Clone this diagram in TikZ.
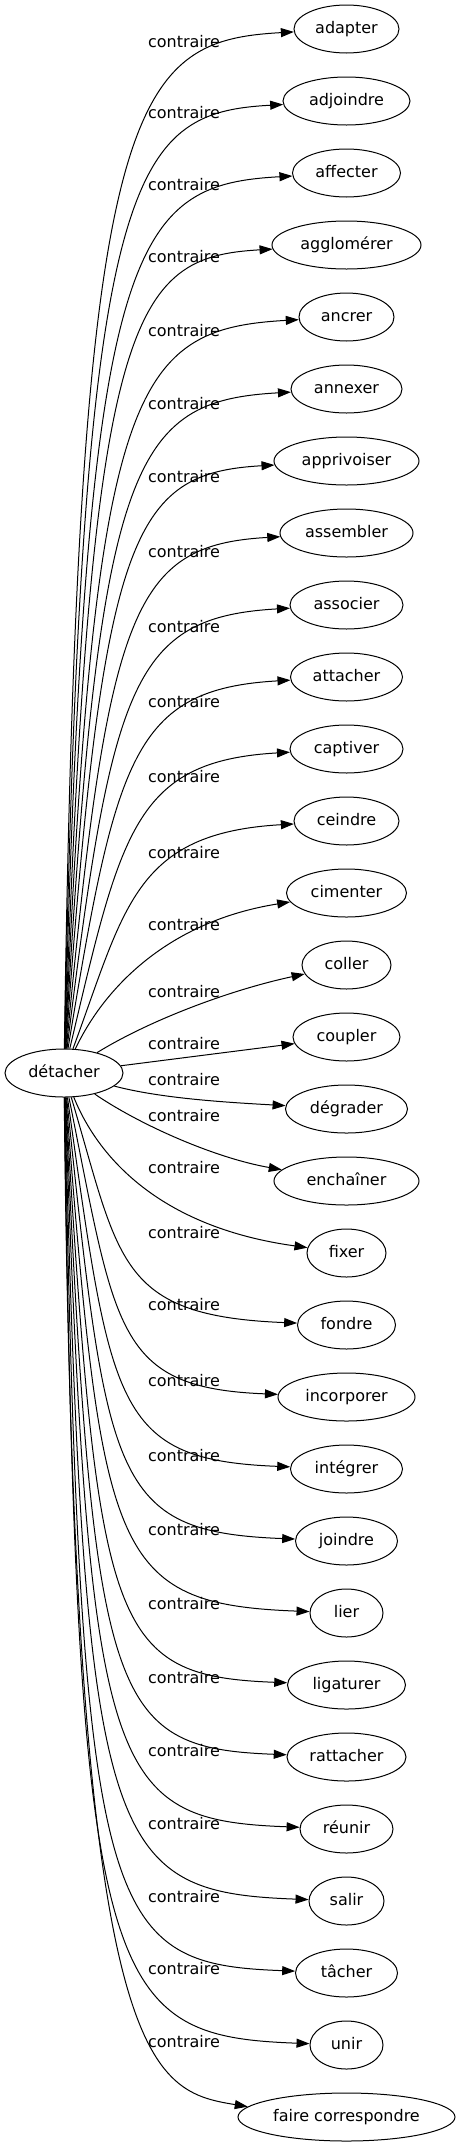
\documentclass[tikz,border=0pt]{standalone}
\usepackage{fontspec}
\setmainfont{DejaVu Sans}
\usetikzlibrary{arrows.meta,shapes.geometric}

\begin{document}
\begin{tikzpicture}[x=1pt,y=-1pt,node distance=72pt,
    main node/.style={draw, ellipse, line width=1pt, inner sep=0pt,
      minimum height=48pt, text height=12pt, text depth=4pt,
      font=\fontsize{16pt}{19pt}\selectfont},
    rel node/.style={inner sep=0pt, font=\fontsize{16pt}{19pt}\selectfont},
    link/.style={line width=1pt, -{Triangle[length=13pt,width=9pt]}}]
    \useasboundingbox (0,0) rectangle (461,2147);

    \node[main node, minimum width=118pt] (0) at (64,1073) {détacher};
    \node[main node, minimum width=105pt] (1) at (346.5,29) {adapter};
    \node[main node, minimum width=127pt] (2) [below of=1] {adjoindre};
    \node[main node, minimum width=108pt] (3) [below of=2] {affecter};
    \node[main node, minimum width=149pt] (4) [below of=3] {agglomérer};
    \node[main node, minimum width=95pt] (5) [below of=4] {ancrer};
    \node[main node, minimum width=111pt] (6) [below of=5] {annexer};
    \node[main node, minimum width=145pt] (7) [below of=6] {apprivoiser};
    \node[main node, minimum width=133pt] (8) [below of=7] {assembler};
    \node[main node, minimum width=113pt] (9) [below of=8] {associer};
    \node[main node, minimum width=112pt] (10) [below of=9] {attacher};
    \node[main node, minimum width=113pt] (11) [below of=10] {captiver};
    \node[main node, minimum width=105pt] (12) [below of=11] {ceindre};
    \node[main node, minimum width=120pt] (13) [below of=12] {cimenter};
    \node[main node, minimum width=89pt] (14) [below of=13] {coller};
    \node[main node, minimum width=107pt] (15) [below of=14] {coupler};
    \node[main node, minimum width=122pt] (16) [below of=15] {dégrader};
    \node[main node, minimum width=145pt] (17) [below of=16] {enchaîner};
    \node[main node, minimum width=79pt] (18) [below of=17] {fixer};
    \node[main node, minimum width=98pt] (19) [below of=18] {fondre};
    \node[main node, minimum width=137pt] (20) [below of=19] {incorporer};
    \node[main node, minimum width=112pt] (21) [below of=20] {intégrer};
    \node[main node, minimum width=102pt] (22) [below of=21] {joindre};
    \node[main node, minimum width=73pt] (23) [below of=22] {lier};
    \node[main node, minimum width=118pt] (24) [below of=23] {ligaturer};
    \node[main node, minimum width=119pt] (25) [below of=24] {rattacher};
    \node[main node, minimum width=93pt] (26) [below of=25] {réunir};
    \node[main node, minimum width=75pt] (27) [below of=26] {salir};
    \node[main node, minimum width=102pt] (28) [below of=27] {tâcher};
    \node[main node, minimum width=73pt] (29) [below of=28] {unir};
    \node[main node, minimum width=217pt] (30) [below of=29] {faire correspondre};

    \node[rel node] (c1) at (184,42) {contraire};
    \node[rel node] (c2) at (184,113) {contraire};
    \node[rel node] (c3) at (184,185) {contraire};
    \node[rel node] (c4) at (184,257) {contraire};
    \node[rel node] (c5) at (184,331) {contraire};
    \node[rel node] (c6) at (184,404) {contraire};
    \node[rel node] (c7) at (184,477) {contraire};
    \node[rel node] (c8) at (184,552) {contraire};
    \node[rel node] (c9) at (184,627) {contraire};
    \node[rel node] (c10) at (184,702) {contraire};
    \node[rel node] (c11) at (184,777) {contraire};
    \node[rel node] (c12) at (184,853) {contraire};
    \node[rel node] (c13) at (184,925) {contraire};
    \node[rel node] (c14) at (184,992) {contraire};
    \node[rel node] (c15) at (184,1044) {contraire};
    \node[rel node] (c16) at (184,1080) {contraire};
    \node[rel node] (c17) at (184,1116) {contraire};
    \node[rel node] (c18) at (184,1168) {contraire};
    \node[rel node] (c19) at (184,1233) {contraire};
    \node[rel node] (c20) at (184,1305) {contraire};
    \node[rel node] (c21) at (184,1381) {contraire};
    \node[rel node] (c22) at (184,1456) {contraire};
    \node[rel node] (c23) at (184,1530) {contraire};
    \node[rel node] (c24) at (184,1604) {contraire};
    \node[rel node] (c25) at (184,1678) {contraire};
    \node[rel node] (c26) at (184,1751) {contraire};
    \node[rel node] (c27) at (184,1824) {contraire};
    \node[rel node] (c28) at (184,1897) {contraire};
    \node[rel node] (c29) at (184,1969) {contraire};
    \node[rel node] (c30) at (184,2042) {contraire};

    \draw[link] (0) .. controls (78,97) and (130,41) .. (1);
    \draw[link] (0) .. controls (82,168) and (130,113) .. (2);
    \draw[link] (0) .. controls (86,240) and (131,185) .. (3);
    \draw[link] (0) .. controls (91,312) and (131,257) .. (4);
    \draw[link] (0) .. controls (95,386) and (132,329) .. (5);
    \draw[link] (0) .. controls (99,459) and (132,401) .. (6);
    \draw[link] (0) .. controls (103,532) and (132,473) .. (7);
    \draw[link] (0) .. controls (108,607) and (133,545) .. (8);
    \draw[link] (0) .. controls (112,682) and (133,617) .. (9);
    \draw[link] (0) .. controls (116,757) and (133,689) .. (10);
    \draw[link] (0) .. controls (121,832) and (134,761) .. (11);
    \draw[link] (0) .. controls (125,908) and (134,833) .. (12);
    \draw[link] (0) .. controls (105,986) and (170,921) .. (13);
    \draw[link] (0) .. controls (150,1020) and (230,990) .. (14);
    \draw[link] (0) -- (15);
    \draw[link] (0) .. controls (160,1098) and (220,1102) .. (16);
    \draw[link] (0) .. controls (140,1125) and (215,1158) .. (17);
    \draw[link] (0) .. controls (100,1162) and (165,1228) .. (18);
    \draw[link] (0) .. controls (120,1261) and (117,1316) .. (19);
    \draw[link] (0) .. controls (116,1331) and (115,1388) .. (20);
    \draw[link] (0) .. controls (111,1407) and (114,1460) .. (21);
    \draw[link] (0) .. controls (107,1482) and (112,1532) .. (22);
    \draw[link] (0) .. controls (102,1556) and (111,1604) .. (23);
    \draw[link] (0) .. controls (98,1630) and (109,1676) .. (24);
    \draw[link] (0) .. controls (94,1704) and (108,1748) .. (25);
    \draw[link] (0) .. controls (90,1777) and (106,1820) .. (26);
    \draw[link] (0) .. controls (85,1850) and (105,1892) .. (27);
    \draw[link] (0) .. controls (81,1923) and (103,1964) .. (28);
    \draw[link] (0) .. controls (77,1990) and (102,2036) .. (29);
    \draw[link] (0) .. controls (74,2065) and (145,2090) .. (30.174);
\end{tikzpicture}
\end{document}
